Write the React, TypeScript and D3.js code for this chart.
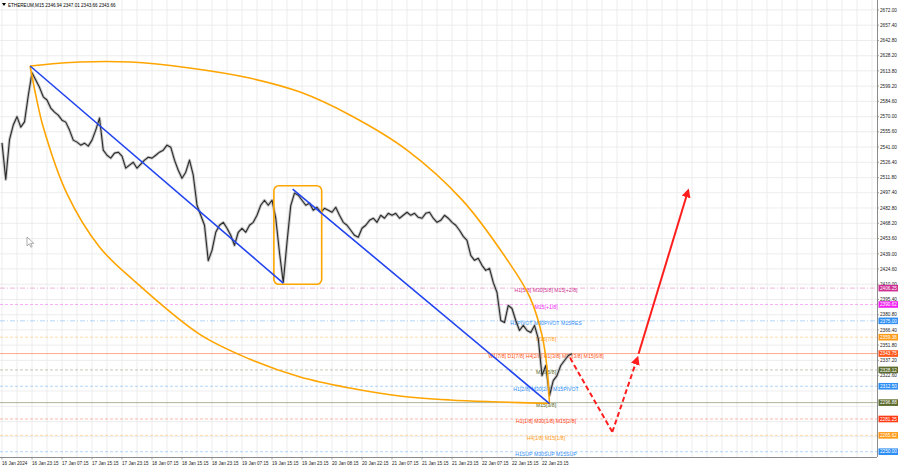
import React from "react";
import * as d3 from "d3";

const W = 900;
const H = 468;
const PLOT_R = 877;
const PLOT_B = 457;

const title = "ETHEREUM,M15  2346.94 2347.01 2343.66 2343.66";

// hourly closes (one value every 4 M15 bars)
const closes = [
  2545.0, 2510.0, 2548.0, 2562.0, 2570.0, 2560.0, 2565.0, 2590.0, 2612.0, 2605.0,
  2598.0, 2589.0, 2585.9, 2578.2, 2574.4, 2571.5, 2566.7, 2564.8, 2557.2, 2547.6,
  2545.7, 2542.8, 2544.7, 2541.9, 2547.6, 2557.2, 2568.7, 2538.0, 2533.2, 2530.4,
  2535.2, 2536.1, 2532.3, 2520.8, 2523.7, 2526.5, 2520.8, 2524.6, 2528.5, 2531.3,
  2530.4, 2533.2, 2536.1, 2538.0, 2542.8, 2540.9, 2528.5, 2518.9, 2511.2, 2517.0,
  2528.5, 2514.1, 2485.4, 2475.8, 2466.3, 2432.5, 2442.3, 2459.6, 2466.3, 2469.1,
  2463.4, 2456.7, 2447.1, 2459.6, 2463.4, 2459.6, 2466.3, 2469.1, 2475.8, 2485.4,
  2490.2, 2485.4, 2490.2, 2473.0, 2440.0, 2411.7, 2450.0, 2485.0, 2497.0, 2495.0,
  2490.2, 2485.4, 2487.3, 2480.6, 2483.5, 2478.7, 2482.5, 2480.6, 2478.7, 2483.5,
  2475.8, 2469.1, 2466.3, 2461.5, 2456.7, 2454.8, 2463.4, 2466.3, 2471.0, 2473.0,
  2469.1, 2475.8, 2473.0, 2477.7, 2475.8, 2477.7, 2473.0, 2475.8, 2478.7, 2475.8,
  2477.7, 2473.9, 2473.0, 2477.7, 2478.7, 2473.0, 2469.1, 2471.0, 2475.8, 2473.0,
  2469.1, 2466.3, 2461.5, 2455.7, 2451.9, 2437.5, 2432.8, 2434.7, 2428.0, 2423.2,
  2425.1, 2411.7, 2402.1, 2375.3, 2373.4, 2389.7, 2386.8, 2375.3, 2365.8, 2370.6,
  2365.8, 2363.9, 2370.6, 2358.1, 2322.7, 2332.3, 2303.6, 2317.9, 2322.7, 2332.3,
  2337.1, 2341.9, 2343.66,
];

const priceTicks = [
  2672.0, 2657.4, 2642.8, 2628.2, 2613.8, 2599.2, 2584.6, 2570.0, 2555.6, 2541.0,
  2526.4, 2511.8, 2497.4, 2482.8, 2468.2, 2453.6, 2439.0, 2424.6, 2410.0, 2395.4,
  2380.8, 2366.4, 2351.8, 2337.2, 2322.6,
];
const hiddenGridPrices = [2308.0, 2293.4, 2278.8, 2264.4];

const timeLabels = [
  "16 Jan 2024", "16 Jan 23:15", "17 Jan 07:15", "17 Jan 15:15", "17 Jan 23:15",
  "18 Jan 07:15", "18 Jan 15:15", "18 Jan 23:15", "19 Jan 07:15", "19 Jan 15:15",
  "19 Jan 23:15", "20 Jan 08:15", "20 Jan 22:15", "21 Jan 07:15", "21 Jan 15:15",
  "21 Jan 23:15", "22 Jan 07:15", "22 Jan 15:15", "22 Jan 23:15",
];

const levelPrices = [2406.25, 2390.62, 2375.0, 2359.38, 2343.75, 2328.12, 2312.5, 2296.88, 2281.25, 2265.62, 2250.0];
const levelTexts = [
  "H1[5/8] M30[5/8] M15[+2/8]",
  "M15[+1/8]",
  "H1PIVOT M30PIVOT M15RES",
  "M15[7/8]",
  "W1[7/8] D1[7/8] H4[2/8] H1[3/8] M30[3/8] M15[6/8]",
  "M15[5/8]",
  "H1[2/8] M30[2/8] M15PIVOT",
  "M15[3/8]",
  "H1[1/8] M30[1/8] M15[2/8]",
  "H4[1/8] M15[1/8]",
  "H1SUP M30SUP M15SUP",
];
const levelColors = ["#cf2f92", "#f01ef0", "#2d8ef5", "#ff9a16", "#ff5519", "#5b6b2c", "#2d8ef5", "#5b6b2c", "#ff3b14", "#ff9a16", "#2d8ef5"];
const levelDash = ["5,2,1,2", "3,2", "5,2,1,2", "3,2", "", "3,2", "3,2", "", "3,2", "3,2", "3,2"];

// drawing objects, as [bar, price]
const blueLine1 = [[30, 2618.4], [300, 2411.1]];
const blueLine2 = [[310, 2500.9], [584, 2296.0]];
const boxBars = [290, 341];
const boxPrices = [2504.1, 2409.9];
const upperArc = [
  [30, 2618.4], [83, 2622.2], [137, 2622.2], [200, 2616.5], [264, 2606.9], [318, 2593.5],
  [371, 2571.6], [432, 2538.1], [491, 2490.3], [539, 2433.1], [563, 2397.7], [576, 2361.4],
  [581, 2332.8], [584, 2296.0],
];
const lowerArc = [
  [30, 2618.4], [36, 2590.7], [44, 2560.1], [69, 2497.0], [104, 2445.5], [140, 2414.0],
  [211, 2362.0], [264, 2338.5], [318, 2321.3], [371, 2310.8], [424, 2303.2], [478, 2299.4],
  [531, 2297.5], [584, 2296.0],
];
const forecastDown = [[606, 2339.5], [651, 2268.8]];
const forecastUp = [[651, 2268.8], [678, 2340.0]];
const forecastTarget = [[679, 2343.5], [732, 2499.8]];

export default function App() {
  const x = d3.scaleLinear().domain([0, 928]).range([2, 872]);
  const y = d3.scaleLinear().domain([2250, 2672]).range([451.7, 9.9]);
  const font = "'Liberation Sans', Arial, sans-serif";

  const priceLine = d3
    .line<number>()
    .x((_, i) => x(i * 4))
    .y((d) => y(d));
  const pairLine = d3
    .line<number[]>()
    .x((d) => x(d[0]))
    .y((d) => y(d[1]));
  const arcLine = d3
    .line<number[]>()
    .x((d) => x(d[0]))
    .y((d) => y(d[1]))
    .curve(d3.curveCatmullRom.alpha(0.5));

  const vGrid = d3.range(0, 929, 16);
  const gridPrices = priceTicks.concat(hiddenGridPrices);

  return (
    <svg
      width={W}
      height={H}
      style={{ position: "fixed", left: 0, top: 0, background: "#fff" }}
      fontFamily={font}
    >
      <defs>
        <clipPath id="plot">
          <rect x={0} y={0} width={PLOT_R} height={PLOT_B} />
        </clipPath>
        <marker id="arrRed" viewBox="0 0 10 10" refX="8" refY="5" markerWidth="4.5" markerHeight="4.5" orient="auto">
          <path d="M0,0 L10,5 L0,10 z" fill="#ff1e1e" />
        </marker>
      </defs>
      <rect x={0} y={0} width={W} height={H} fill="#fff" />
      <g clipPath="url(#plot)">
        {vGrid.map((b) => (
          <line key={"vg" + b} x1={x(b)} x2={x(b)} y1={0} y2={PLOT_B} stroke="#e9e9e9" strokeWidth={0.8} />
        ))}
        {gridPrices.map((p) => (
          <line key={"hg" + p} x1={0} x2={PLOT_R} y1={y(p)} y2={y(p)} stroke="#e9e9e9" strokeWidth={0.8} />
        ))}
        {levelPrices.map((p, i) => (
          <line
            key={"lv" + p}
            x1={0}
            x2={PLOT_R}
            y1={y(p)}
            y2={y(p)}
            stroke={levelColors[i]}
            strokeOpacity={levelDash[i] ? 0.4 : 0.55}
            strokeWidth={0.9}
            strokeDasharray={levelDash[i] || undefined}
          />
        ))}
        {levelPrices.map((p, i) => (
          <text
            key={"lt" + p}
            x={546}
            y={y(p) + 4.3}
            fontSize={5.2}
            fill={levelColors[i]}
            textAnchor="middle"
          >
            {levelTexts[i]}
          </text>
        ))}
        <path d={priceLine(closes) || ""} fill="none" stroke="#9a9a9a" strokeWidth={3} strokeOpacity={0.55} strokeLinejoin="round" />
        <path d={priceLine(closes) || ""} fill="none" stroke="#2a2a2a" strokeWidth={1.1} strokeLinejoin="round" />

        <path d={arcLine(upperArc) || ""} fill="none" stroke="#ffa500" strokeWidth={1.6} />
        <path d={arcLine(lowerArc) || ""} fill="none" stroke="#ffa500" strokeWidth={1.6} />
        <rect
          x={x(boxBars[0])}
          y={y(boxPrices[0])}
          width={x(boxBars[1]) - x(boxBars[0])}
          height={y(boxPrices[1]) - y(boxPrices[0])}
          rx={5}
          fill="none"
          stroke="#ffa500"
          strokeWidth={1.6}
        />
        <path d={pairLine(blueLine1) || ""} stroke="#2244ee" strokeWidth={1.6} fill="none" />
        <path d={pairLine(blueLine2) || ""} stroke="#2244ee" strokeWidth={1.6} fill="none" />

        <path d={pairLine(forecastDown) || ""} stroke="#ff1e1e" strokeWidth={2} strokeDasharray="5,3" fill="none" />
        <path d={pairLine(forecastUp) || ""} stroke="#ff1e1e" strokeWidth={2} strokeDasharray="5,3" fill="none" markerEnd="url(#arrRed)" />
        <path d={pairLine(forecastTarget) || ""} stroke="#ff1e1e" strokeWidth={2} fill="none" markerEnd="url(#arrRed)" />

        <path d="M27,237 L27,246 L29.3,243.8 L30.9,247.2 L32.2,246.6 L30.7,243.3 L33.8,243.3 Z" fill="#fff" stroke="#777" strokeWidth={0.6} />
      </g>

      {/* title */}
      <path d="M2,3 L6,3 L4,6 Z" fill="#000" />
      <text x={8} y={6.8} fontSize={4.6} fill="#000">
        {title}
      </text>

      {/* axes frame */}
      <line x1={PLOT_R + 0.5} x2={PLOT_R + 0.5} y1={0} y2={PLOT_B} stroke="#8c8c8c" strokeWidth={1} />
      <line x1={0} x2={PLOT_R} y1={PLOT_B + 0.5} y2={PLOT_B + 0.5} stroke="#8c8c8c" strokeWidth={1} />

      {priceTicks.map((p) => (
        <g key={"pt" + p}>
          <line x1={PLOT_R} x2={PLOT_R + 2} y1={y(p)} y2={y(p)} stroke="#8c8c8c" strokeWidth={0.8} />
          <text x={PLOT_R + 3} y={y(p) + 1.7} fontSize={4.7} fill="#222">
            {p.toFixed(2)}
          </text>
        </g>
      ))}
      {levelPrices.map((p, i) => (
        <g key={"lb" + p}>
          <rect x={PLOT_R + 1.5} y={y(p) - 3.3} width={19.5} height={6.6} fill={levelColors[i]} />
          <text x={PLOT_R + 3} y={y(p) + 1.7} fontSize={4.7} fill="#fff">
            {p.toFixed(2)}
          </text>
        </g>
      ))}

      {timeLabels.map((t, i) => (
        <g key={"tl" + i}>
          <line x1={x(i * 32)} x2={x(i * 32)} y1={PLOT_B} y2={PLOT_B + 2.5} stroke="#8c8c8c" strokeWidth={0.8} />
          <text x={x(i * 32)} y={464.8} fontSize={4.6} fill="#222">
            {t}
          </text>
        </g>
      ))}
    </svg>
  );
}
